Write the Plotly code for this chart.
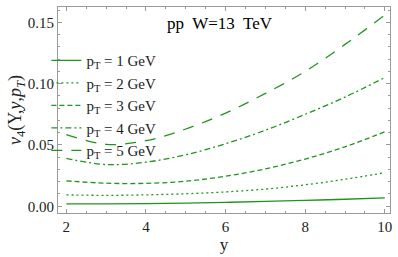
import plotly.graph_objects as go

# rapidity values
y_vals = [2, 3, 4, 5, 6, 7, 8, 9, 10]

# v4 values for each pT
v4_pt1 = [0.0020, 0.0020, 0.0022, 0.0026, 0.0032, 0.0039, 0.0048, 0.0057, 0.0068]
v4_pt2 = [0.0093, 0.0089, 0.0093, 0.0102, 0.0117, 0.0140, 0.0175, 0.0220, 0.0274]
v4_pt3 = [0.0207, 0.0188, 0.0187, 0.0204, 0.0245, 0.0305, 0.0385, 0.0485, 0.0607]
v4_pt4 = [0.0390, 0.0340, 0.0360, 0.0420, 0.0510, 0.0620, 0.0750, 0.0890, 0.1050]
v4_pt5 = [0.0585, 0.0505, 0.0535, 0.0630, 0.0760, 0.0920, 0.1100, 0.1320, 0.1560]

names = ["p<sub>T</sub> = 1 GeV", "p<sub>T</sub> = 2 GeV", "p<sub>T</sub> = 3 GeV",
         "p<sub>T</sub> = 4 GeV", "p<sub>T</sub> = 5 GeV"]
series = [v4_pt1, v4_pt2, v4_pt3, v4_pt4, v4_pt5]
dashes = ["solid", "2px,3px", "5px,3px", "6px,3px,2px,3px", "11px,9px"]

x_ticks = [2, 4, 6, 8, 10]
y_ticks = [0.00, 0.05, 0.10, 0.15]
y_ticklabels = ["0.00", "0.05", "0.10", "0.15"]

green = "rgb(30,150,30)"
serif = "Liberation Serif, Times New Roman, serif"

fig = go.Figure()
for i, (nm, vals, ds) in enumerate(zip(names, series, dashes)):
    fig.add_trace(go.Scatter(
        x=y_vals, y=vals, mode="lines", name=nm,
        legendgroup=str(i),
        line=dict(color=green, width=1.3, dash=ds, shape="spline", smoothing=1.0),
    ))

fig.add_annotation(text="pp  W=13  TeV", xref="paper", yref="paper",
                   x=0.487, y=0.918, xanchor="center", yanchor="middle", showarrow=False,
                   font=dict(family=serif, size=17, color="black"))

axis_common = dict(
    showline=True, linecolor="#9a9a9a", linewidth=1, mirror="ticks",
    ticks="inside", ticklen=4, tickcolor="#9a9a9a",
    showgrid=False, zeroline=False,
    tickfont=dict(family=serif, size=15, color="#222"),
)

fig.update_xaxes(range=[1.79, 10.13], tickvals=x_ticks,
                 title=dict(text="y", font=dict(family=serif, size=17, color="#222"), standoff=4),
                 minor=dict(ticks="inside", ticklen=2, tickcolor="#9a9a9a", dtick=0.5),
                 **axis_common)
fig.update_yaxes(range=[-0.0055, 0.1625], tickvals=y_ticks, ticktext=y_ticklabels,
                 title=dict(text="<i>v</i><sub>4</sub>(Y,<i>y</i>,<i>p<sub>T</sub></i>)",
                            font=dict(family=serif, size=18, color="#222"), standoff=0),
                 minor=dict(ticks="inside", ticklen=2, tickcolor="#9a9a9a", dtick=0.01),
                 **axis_common)

fig.update_layout(
    width=398, height=257,
    margin=dict(l=57.5, r=6, t=7, b=43),
    paper_bgcolor="white", plot_bgcolor="white",
    showlegend=True,
    legend=dict(x=-0.035, y=0.82, xanchor="left", yanchor="top",
                bgcolor="rgba(0,0,0,0)", font=dict(family=serif, size=15, color="#222"),
                tracegroupgap=0, itemwidth=30),
)

fig.write_html("out.html", config={"displayModeBar": False},
               post_script="document.body.style.margin='0';")
